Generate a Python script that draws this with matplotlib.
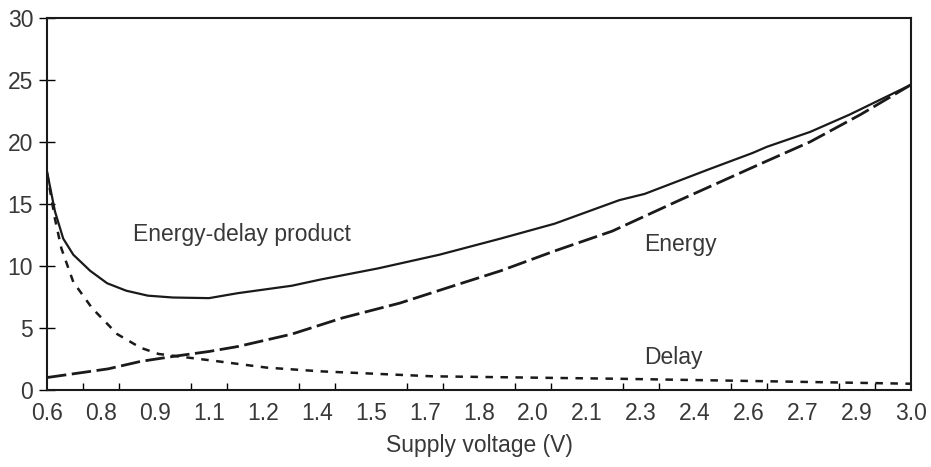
#
# Energy, delay and energy-delay product against supply voltage
#

import matplotlib
matplotlib.use("Agg")
import matplotlib.pyplot as plt
import numpy as np

plt.rcParams['font.family'] = ['Liberation Sans', 'DejaVu Sans']

# energy-delay product (solid)
edp_v = [0.60, 0.622, 0.645, 0.673, 0.72, 0.767, 0.82, 0.88, 0.95, 1.05, 1.13, 1.28, 1.36,
         1.52, 1.69, 1.86, 2.01, 2.19, 2.26, 2.44, 2.56, 2.60, 2.72, 2.83, 3.00]
edp = [17.6, 14.4, 12.2, 10.9, 9.6, 8.6, 8.0, 7.6, 7.45, 7.4, 7.8, 8.4, 8.9,
       9.8, 10.9, 12.2, 13.4, 15.3, 15.8, 17.8, 19.1, 19.6, 20.8, 22.2, 24.6]

# energy (long dashes)
energy_v = [0.60, 0.77, 0.86, 0.95, 1.05, 1.13, 1.28, 1.42, 1.58, 1.73, 1.86, 2.01, 2.17,
            2.35, 2.58, 2.72, 2.86, 3.00]
energy = [1.0, 1.7, 2.3, 2.7, 3.1, 3.5, 4.5, 5.8, 7.0, 8.4, 9.6, 11.2, 12.8,
          15.2, 18.2, 20.0, 22.2, 24.6]

# delay (short dashes)
delay_v = [0.60, 0.622, 0.64, 0.673, 0.725, 0.795, 0.86, 0.91, 1.05, 1.13, 1.21, 1.36, 1.67,
           2.19, 2.60, 3.00]
delay = [17.5, 13.8, 11.4, 8.7, 6.6, 4.5, 3.4, 2.9, 2.4, 2.1, 1.8, 1.5, 1.1,
         0.9, 0.7, 0.5]

x_labels = ['0.6', '0.8', '0.9', '1.1', '1.2', '1.4', '1.5', '1.7', '1.8', '2.0',
            '2.1', '2.3', '2.4', '2.6', '2.7', '2.9', '3.0']

TXT = '#383838'
FS = 16.5

fig = plt.figure(figsize=(9.31, 4.67), dpi=100)
ax = fig.add_axes([0.0505, 0.165, 0.928, 0.797])

ax.plot(edp_v, edp, color='#1a1a1a', lw=1.6)
ax.plot(energy_v, energy, color='#1a1a1a', lw=2.0, dashes=(7, 2))
ax.plot(delay_v, delay, color='#1a1a1a', lw=1.8, dashes=(3, 3))

ax.text(0.84, 12.55, 'Energy-delay product', fontsize=FS, color=TXT, va='center')
ax.text(2.26, 11.7, 'Energy', fontsize=FS, color=TXT, va='center')
ax.text(2.26, 2.6, 'Delay', fontsize=FS, color=TXT, va='center')

ax.set_xlim(0.6, 3.0)
ax.set_ylim(0, 30)

# labels sit every 0.15 V, tick marks every 0.1 V
ax.set_xticks(np.linspace(0.6, 3.0, len(x_labels)))
ax.set_xticklabels(x_labels)
ax.set_xticks(np.arange(0.7, 3.0, 0.1), minor=True)
ax.tick_params(axis='x', which='major', length=0, pad=9, labelsize=FS, labelcolor=TXT)
ax.tick_params(axis='x', which='minor', direction='in', length=5, width=1.0)

ax.set_yticks(range(0, 31, 5))
ax.tick_params(axis='y', direction='inout', length=12, width=1.0, pad=4,
               labelsize=FS, labelcolor=TXT)

ax.set_xlabel('Supply voltage (V)', fontsize=FS, color=TXT, labelpad=6)

for s in ax.spines.values():
    s.set_linewidth(1.5)
    s.set_color('#1a1a1a')

fig.savefig('out.png', dpi=100)
